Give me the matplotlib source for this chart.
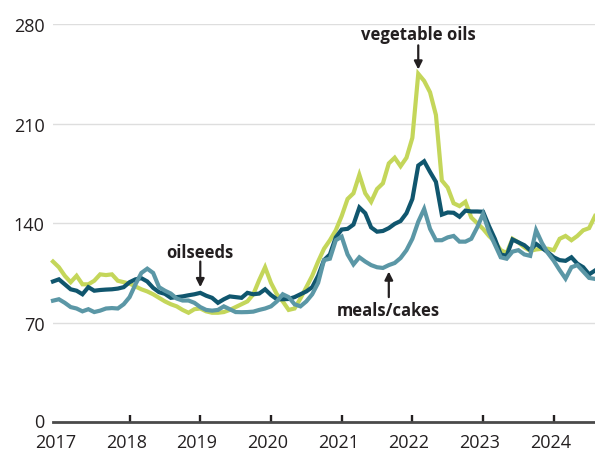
import numpy as np
import matplotlib
matplotlib.use("Agg")
import matplotlib.pyplot as plt
from matplotlib.transforms import ScaledTranslation

# ---- data (monthly, Jan 2017 - Sep 2024) ----
start_year = 2017
vegetable_oils = [113, 109, 103, 98.5, 103, 97, 97, 99.5, 104, 103.5, 104, 99.5,
                  98.5, 97.5, 95.5, 93.5, 92, 90, 87.5, 85, 83, 81.5, 79, 77,
                  79.5, 80, 78, 77, 77, 77.5, 79, 81, 83, 85, 90, 100,
                  109, 98, 90, 85, 79, 80, 87, 95, 103, 113, 122, 128,
                  135, 145, 157, 161, 174, 161, 155, 164, 168, 182, 186, 180,
                  186, 200, 245, 240, 232, 216, 170, 165, 154, 152, 155, 144,
                  140, 136, 131, 127, 121, 119, 129, 126.5, 123, 120.5, 121.5, 122,
                  122, 121, 129, 131, 128, 131, 135, 136.5, 145]
oilseeds = [99, 100.5, 97, 93.5, 92.5, 90, 95, 92.5, 93, 93.3, 93.5, 94,
            95, 98.5, 100.5, 101.3, 99, 94.5, 91.5, 90.3, 87.5, 88, 88.5, 89.3,
            90, 91, 89, 87.5, 84, 86.5, 88.5, 88, 87.5, 91, 90, 90.5,
            93.5, 89.5, 86.5, 86.5, 86.7, 88, 90, 92, 95, 103, 114, 118,
            130, 135.5, 136, 139, 151, 147, 137, 134, 134.5, 136.5, 139.5, 141.5,
            147, 157, 180.5, 183.5, 176, 169, 146, 147.5, 147.3, 144.5, 148.8, 148.2,
            148.2, 148, 138, 129, 118, 117, 128.5, 126.5, 124.5, 121, 125.4, 122.5,
            119.5, 116, 114, 113.5, 116, 111.5, 109, 104, 106.7]
meals_cakes = [85.5, 86.5, 84, 81, 80, 78, 79.5, 77.5, 78.5, 80, 80.3, 80,
               83, 88, 97, 105, 108, 105, 95, 92.5, 90.5, 87, 85.6, 85.6,
               84, 81, 79, 78.5, 79, 81.5, 79.5, 77.5, 77.4, 77.5, 77.8, 79,
               80, 81.5, 85, 90, 88, 83, 81.5, 85, 90, 98, 114, 115,
               128, 130.5, 118, 111, 116, 113, 110.5, 109, 108.5, 110.5, 112, 115.5,
               121, 129, 141, 150, 136, 128, 128, 130, 131, 127, 127, 129,
               137, 146.5, 134, 125, 116, 115, 120, 121, 118, 117, 135, 126,
               119, 113.5, 107, 101, 109, 110.5, 106, 101.5, 100.8]
year_labels = [2017, 2018, 2019, 2020, 2021, 2022, 2023, 2024]
y_ticks = [0, 70, 140, 210, 280]
annotations = ["vegetable oils", "oilseeds", "meals/cakes"]

# ---- style ----
plt.rcParams['font.family'] = ['Open Sans', 'DejaVu Sans']
TXT = '#231f20'
C_VEG = '#c4d65a'
C_SEED = '#10566e'
C_MEAL = '#5b97a6'

n = len(vegetable_oils)
x = start_year + np.arange(n) / 12.0

fig = plt.figure(figsize=(5.95, 4.52), dpi=100)
ax = fig.add_axes([53 / 595, (452 - 423.3) / 452, (595 - 53) / 595, (423.3 - 25) / 452])

ax.plot(x, vegetable_oils, color=C_VEG, lw=3.0, solid_joinstyle='miter', zorder=3, clip_on=False)
ax.plot(x, oilseeds, color=C_SEED, lw=3.0, solid_joinstyle='miter', zorder=4, clip_on=False)
ax.plot(x, meals_cakes, color=C_MEAL, lw=3.0, solid_joinstyle='miter', zorder=5, clip_on=False)

ax.set_xlim(x[0], x[-1])
ax.set_ylim(0, 280)

# grid
for v in y_ticks[1:]:
    ax.axhline(v, color='#dedede', lw=1.0, zorder=1)

for s in ['top', 'right', 'left']:
    ax.spines[s].set_visible(False)
ax.spines['bottom'].set_color('#4a4a4a')
ax.spines['bottom'].set_linewidth(2.0)
ax.spines['bottom'].set_zorder(6)

ax.set_yticks(y_ticks)
ax.set_yticklabels([str(v) for v in y_ticks])
ax.tick_params(axis='y', length=0, pad=6, labelsize=13, labelcolor=TXT)
# lift the "0" label a touch so it clears the year label below
lift = ScaledTranslation(0, 2.5 / 100, fig.dpi_scale_trans)
ylabs = ax.get_yticklabels()
ylabs[0].set_transform(ylabs[0].get_transform() + lift)

ax.set_xticks(year_labels)
ax.set_xticklabels([str(y) for y in year_labels])
ax.tick_params(axis='x', which='major', length=0, pad=7.5, labelsize=13, labelcolor=TXT)
tick_marks = [x[0]] + [y + 1 / 12 for y in year_labels[1:]]
ax.set_xticks(tick_marks, minor=True)
ax.tick_params(axis='x', which='minor', direction='in', length=5, width=1.7, color=TXT)
off = ScaledTranslation(2.5 / 100, 0, fig.dpi_scale_trans)
for lab in ax.get_xticklabels():
    lab.set_transform(lab.get_transform() + off)

# annotations
def annot(label, idx, text_y, tail_y, head_y):
    xi = x[idx]
    ax.text(xi, text_y, label, ha='center', va='center', fontsize=12,
            fontweight='bold', color=TXT, zorder=7)
    ax.annotate('', xy=(xi, head_y), xytext=(xi, tail_y),
                arrowprops=dict(arrowstyle='-|>', color=TXT, lw=1.6,
                                mutation_scale=12, shrinkA=0, shrinkB=0), zorder=7)

annot(annotations[0], 62, 273, 265, 248)
annot(annotations[1], 25, 120, 113, 95)
annot(annotations[2], 57, 79, 88, 106)

fig.savefig('out.png', dpi=100)
